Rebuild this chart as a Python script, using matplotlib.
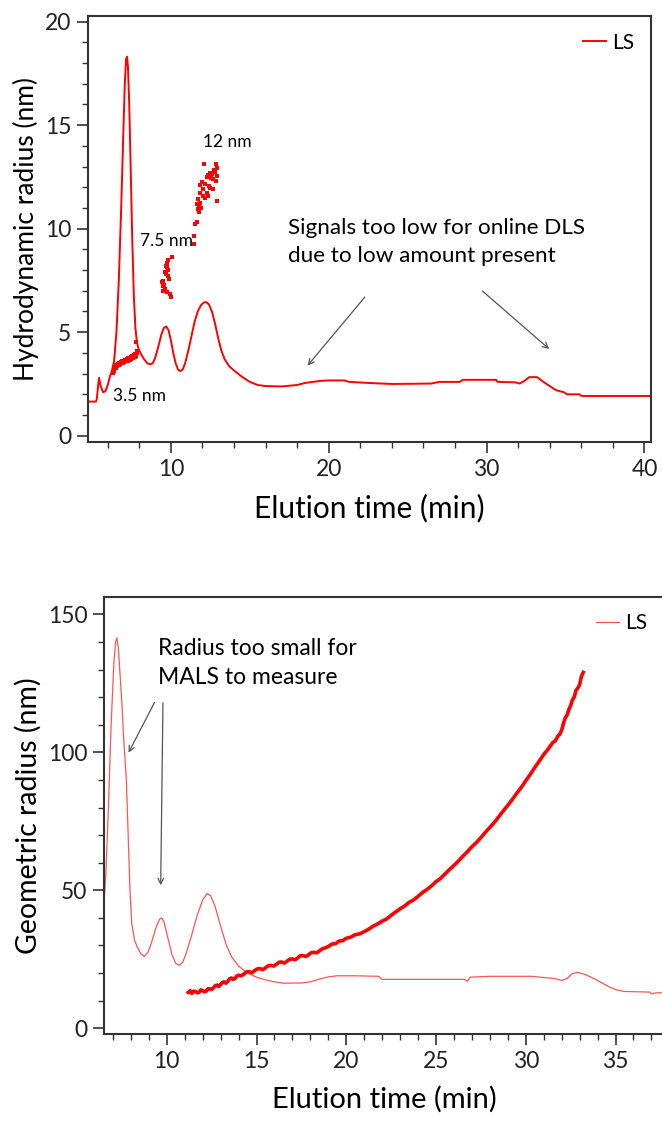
import matplotlib.pyplot as plt
from matplotlib.ticker import MultipleLocator

plt.rcParams['font.family'] = ['Lato', 'DejaVu Sans']

# ---- top panel: hydrodynamic radius (DLS)
ls_top_x = [4.7, 5.25, 5.3, 5.4, 5.45, 5.55, 5.7, 5.85, 6.0, 6.15, 6.25, 6.4, 6.55, 6.7, 6.85, 6.98,
            7.08, 7.16, 7.22, 7.28, 7.36, 7.45, 7.55, 7.65, 7.75, 7.85, 7.95, 8.1, 8.3, 8.5, 8.7,
            8.85, 9.0, 9.2, 9.4, 9.55, 9.7, 9.85, 10.0, 10.15, 10.3, 10.45, 10.6, 10.75, 10.9,
            11.1, 11.3, 11.5, 11.7, 11.9, 12.1, 12.25, 12.4, 12.6, 12.8, 13.0, 13.2, 13.4, 13.7,
            14.0, 14.5, 15.0, 15.5, 16.0, 17.0, 18.0, 18.5, 19.0, 19.5, 20.0, 21.0, 21.3, 22.5,
            24.0, 26.5, 27.0, 28.3, 28.5, 30.6, 30.7, 31.8, 32.1, 32.4, 32.7, 33.2, 33.6, 34.0,
            34.4, 34.9, 35.1, 35.9, 36.0, 40.5]
ls_top_y = [1.65, 1.65, 1.75, 2.5, 2.8, 2.4, 2.1, 2.15, 2.45, 2.9, 3.1, 3.6, 5.0, 7.5, 11.0, 14.5,
            17.0, 18.2, 18.3, 17.8, 16.0, 13.0, 9.5, 6.8, 5.2, 4.5, 4.2, 3.95, 3.7, 3.5, 3.45,
            3.5, 3.75, 4.3, 4.9, 5.2, 5.28, 5.1, 4.6, 4.0, 3.5, 3.2, 3.12, 3.2, 3.5,
            4.1, 4.8, 5.5, 6.0, 6.3, 6.44, 6.45, 6.35, 6.0, 5.4, 4.7, 4.1, 3.7, 3.35,
            3.15, 2.85, 2.6, 2.45, 2.4, 2.38, 2.45, 2.55, 2.6, 2.65, 2.67, 2.67, 2.6, 2.55,
            2.5, 2.52, 2.6, 2.6, 2.7, 2.7, 2.6, 2.58, 2.52, 2.65, 2.83, 2.83, 2.6, 2.4,
            2.2, 2.1, 2.0, 2.0, 1.92, 1.92]

rh35_x = [6.33, 6.38, 6.42, 6.46, 6.5, 6.55, 6.6, 6.64, 6.68, 6.72, 6.77, 6.82, 6.86, 6.9, 6.95,
          7.0, 7.05, 7.1, 7.15, 7.2, 7.25, 7.3, 7.35, 7.4, 7.45, 7.5, 7.55, 7.6, 7.65, 7.7,
          7.75, 7.8, 7.85, 7.88, 7.8]
rh35_y = [3.05, 3.2, 3.15, 3.3, 3.25, 3.4, 3.35, 3.45, 3.4, 3.5, 3.45, 3.55, 3.5, 3.6, 3.5,
          3.6, 3.55, 3.65, 3.6, 3.7, 3.6, 3.75, 3.7, 3.65, 3.8, 3.7, 3.85, 3.75, 3.9, 3.8,
          3.95, 3.85, 4.0, 4.1, 4.55]

rh75_x = [10.04, 9.83, 9.73, 9.68, 9.77, 9.62, 9.68, 9.83, 9.89, 9.51, 9.41, 9.47, 9.62, 9.51,
          9.73, 9.94, 10.02, 9.56, 9.8]
rh75_y = [8.61, 8.5, 8.34, 8.21, 8.13, 7.89, 7.81, 7.73, 7.57, 7.48, 7.41, 7.24, 7.08, 7.0,
          6.93, 6.84, 6.7, 7.3, 8.0]

rh12_x = [12.09, 12.83, 12.93, 12.47, 12.78, 12.36, 12.58, 12.89, 12.26, 12.68, 12.83, 11.94,
          11.84, 12.15, 12.41, 12.05, 12.47, 12.68, 11.84, 12.26, 12.05, 12.36, 12.15, 11.73,
          12.93, 11.84, 11.63, 11.77, 11.9, 11.69, 11.77, 11.63, 11.52, 11.48, 11.48, 12.7, 12.55]
rh12_y = [13.11, 13.11, 12.95, 12.71, 12.74, 12.58, 12.63, 12.55, 12.47, 12.39, 12.3, 12.26,
          12.1, 12.14, 12.06, 11.9, 11.94, 11.9, 11.74, 11.74, 11.58, 11.58, 11.5, 11.42,
          11.34, 11.26, 11.18, 11.1, 11.02, 10.94, 10.78, 10.3, 10.22, 9.65, 9.25, 12.85, 12.45]

# ---- bottom panel: geometric radius (MALS)
ls_bot_x = [6.5, 6.6, 6.75, 6.9, 7.05, 7.15, 7.22, 7.3, 7.4, 7.5, 7.6, 7.75, 7.85, 7.95, 8.05,
            8.2, 8.35, 8.55, 8.75, 8.95, 9.15, 9.4, 9.6, 9.72, 9.85, 10.05, 10.3, 10.5, 10.7,
            10.9, 11.1, 11.4, 11.7, 12.0, 12.25, 12.45, 12.7, 13.0, 13.3, 13.6, 14.0, 14.5,
            15.0, 15.5, 16.0, 16.5, 17.5, 18.0, 18.5, 19.0, 19.5, 20.5, 21.8, 22.0, 26.6,
            26.75, 26.9, 28.0, 30.3, 31.6, 32.0, 32.3, 32.6, 32.9, 33.3, 33.8, 34.3, 34.7,
            35.1, 35.5, 36.9, 37.0, 37.2, 37.8]
ls_bot_y = [45, 55, 80, 110, 132, 140, 141.5, 138, 128, 118, 105, 90, 70, 50, 38,
            32, 29.5, 27, 26, 27.5, 31, 36.5, 39.5, 40, 38.5, 33, 26.5, 23.5, 22.8,
            24, 27.5, 34, 41, 46.5, 48.8, 48, 44, 37, 30.5, 26, 22.5, 20,
            18.5, 17.5, 16.8, 16.3, 16.4, 16.8, 17.8, 18.6, 19.0, 19.0, 18.8, 17.7, 17.7,
            17.0, 18.5, 18.8, 18.8, 18.0, 17.3, 18.0, 19.8, 20.2, 19.5, 18.0, 16.2, 14.8,
            13.8, 13.3, 13.1, 12.4, 12.8, 12.9]

rg_x = [11.2, 11.3, 11.4, 11.5, 11.6, 11.7, 11.8, 11.9, 12.0, 12.1, 12.2, 12.3, 12.4, 12.5,
        12.6, 12.7, 12.8, 12.9, 13.0, 13.1, 13.2, 13.3, 13.4, 13.5, 13.6, 13.7, 13.8, 13.9,
        14.0, 14.15, 14.3, 14.45, 14.6, 14.75, 14.9, 15.05, 15.2, 15.35, 15.5, 15.65, 15.8,
        15.95, 16.1, 16.25, 16.4, 16.55, 16.7, 16.85, 17.0, 17.15, 17.3, 17.45, 17.6, 17.75,
        17.9, 18.05, 18.2, 18.35, 18.5, 18.65, 18.8, 19.0, 19.2, 19.4, 19.6, 19.8, 20.0,
        20.25, 20.5, 20.75, 21.0, 21.25, 21.5, 21.75, 22.0, 22.25, 22.5, 22.75, 23.0, 23.25,
        23.5, 23.75, 24.0, 24.25, 24.5, 24.75, 25.0, 25.25, 25.5, 25.75, 26.0, 26.25, 26.5,
        26.75, 27.0, 27.25, 27.5, 27.75, 28.0, 28.25, 28.5, 28.75, 29.0, 29.25, 29.5, 29.75,
        30.0, 30.25, 30.5, 30.75, 31.0, 31.25, 31.5, 31.65, 31.8, 31.9, 32.0, 32.1, 32.2,
        32.3, 32.4, 32.5, 32.6, 32.7, 32.8, 32.9, 33.0, 33.1, 33.2]
rg_y = [13.0, 13.6, 12.6, 13.4, 13.3, 12.8, 13.0, 13.9, 13.6, 13.2, 13.4, 14.3, 14.2, 14.0,
        14.6, 15.4, 15.6, 15.1, 15.9, 16.6, 16.8, 16.3, 17.0, 17.9, 18.2, 17.7, 18.0, 18.9,
        19.2, 19.0, 19.6, 20.4, 20.5, 20.1, 20.9, 21.5, 21.6, 21.2, 21.9, 22.6, 22.8,
        22.5, 23.1, 23.9, 24.0, 23.6, 24.3, 25.0, 25.1, 24.8, 25.5, 26.3, 26.3, 26.0,
        26.6, 27.4, 27.5, 27.3, 28.0, 28.7, 29.1, 29.6, 30.5, 30.6, 31.6, 31.7, 32.6,
        33.0, 33.9, 34.2, 35.0, 35.9, 37.0, 37.8, 38.8, 39.6, 40.9, 42.1, 43.3, 44.3,
        45.6, 46.5, 47.8, 49.2, 50.3, 51.6, 53.1, 54.3, 55.9, 57.5, 59.0, 60.6, 62.4,
        64.0, 65.8, 67.3, 69.1, 71.0, 72.8, 74.6, 76.7, 78.8, 80.8, 82.9, 85.2, 87.3,
        89.7, 92.0, 94.5, 96.8, 99.2, 101.2, 103.5, 104.2, 106.0, 106.6, 108.0, 110.5, 112.5,
        113.5, 115.5, 117.0, 119.0, 120.0, 122.5, 123.3, 124.5, 127.5, 129.0]

red = '#ff0000'
light_red = '#ff5555'
grey = '#555555'
spine_col = '#333333'


def style_axis(ax, xmaj, xmin, ymaj, ymin):
    for s in ax.spines.values():
        s.set_linewidth(1.5)
        s.set_color(spine_col)
    ax.xaxis.set_major_locator(MultipleLocator(xmaj))
    ax.xaxis.set_minor_locator(MultipleLocator(xmin))
    ax.yaxis.set_major_locator(MultipleLocator(ymaj))
    ax.yaxis.set_minor_locator(MultipleLocator(ymin))
    ax.tick_params(which='major', direction='out', length=8, width=1.2, labelsize=16.5,
                   colors=spine_col, labelcolor='#222222', pad=4)
    ax.tick_params(which='minor', direction='out', length=4.5, width=1.0, colors=spine_col)
    ax.tick_params(top=False, right=False, which='both')


fig = plt.figure(figsize=(6.62, 11.24), dpi=100)

# top
ax1 = fig.add_axes([0.133, 0.6068, 0.850, 0.3790])
ax1.plot(ls_top_x, ls_top_y, color=red, lw=1.4, label='LS')
ax1.plot(rh35_x, rh35_y, 's', color=red, ms=2.2, mew=0)
ax1.plot(rh75_x, rh75_y, 's', color=red, ms=2.2, mew=0)
ax1.plot(rh12_x, rh12_y, 's', color=red, ms=2.2, mew=0)
ax1.set_xlim(4.75, 40.4)
ax1.set_ylim(-0.3, 20.27)
style_axis(ax1, 10, 2, 5, 1)
ax1.set_xlabel('Elution time (min)', fontsize=21.5, labelpad=10)
ax1.set_ylabel('Hydrodynamic radius (nm)', fontsize=19, labelpad=4)
ax1.text(13.6, 14.2, '12 nm', fontsize=12.5, ha='center', va='center')
ax1.text(9.7, 9.4, '7.5 nm', fontsize=12.5, ha='center', va='center')
ax1.text(8.04, 1.93, '3.5 nm', fontsize=12.5, ha='center', va='center')
ax1.text(17.4, 9.37, 'Signals too low for online DLS\ndue to low amount present',
         fontsize=16.2, ha='left', va='center', linespacing=1.5)
ax1.annotate('', xy=(18.54, 3.28), xytext=(22.4, 6.8),
             arrowprops=dict(arrowstyle='->', color=grey, lw=0.9))
ax1.annotate('', xy=(34.1, 4.1), xytext=(29.6, 7.08),
             arrowprops=dict(arrowstyle='->', color=grey, lw=0.9))
ax1.legend(loc='upper right', frameon=False, fontsize=15, handlelength=1.1,
           handletextpad=0.3, borderaxespad=0.4)

# bottom
ax2 = fig.add_axes([0.157, 0.0801, 0.846, 0.3892])
ax2.plot(ls_bot_x, ls_bot_y, color=light_red, lw=0.9, label='LS')
ax2.plot(rg_x, rg_y, color=red, lw=2.6)
ax2.set_xlim(6.5, 37.7)
ax2.set_ylim(-2.1, 156.5)
style_axis(ax2, 5, 1, 50, 10)
ax2.set_xlabel('Elution time (min)', fontsize=21, labelpad=10)
ax2.set_ylabel('Geometric radius (nm)', fontsize=20.5, labelpad=4)
ax2.text(9.5, 132.4, 'Radius too small for\nMALS to measure',
         fontsize=16.5, ha='left', va='center', linespacing=1.5)
ax2.annotate('', xy=(7.8, 99), xytext=(9.39, 119),
             arrowprops=dict(arrowstyle='->', color=grey, lw=0.9))
ax2.annotate('', xy=(9.66, 50.8), xytext=(9.79, 119),
             arrowprops=dict(arrowstyle='->', color=grey, lw=0.9))
ax2.legend(loc='upper right', frameon=False, fontsize=15, handlelength=1.1,
           handletextpad=0.3, borderaxespad=0.4)

fig.savefig('out.png', dpi=100)
